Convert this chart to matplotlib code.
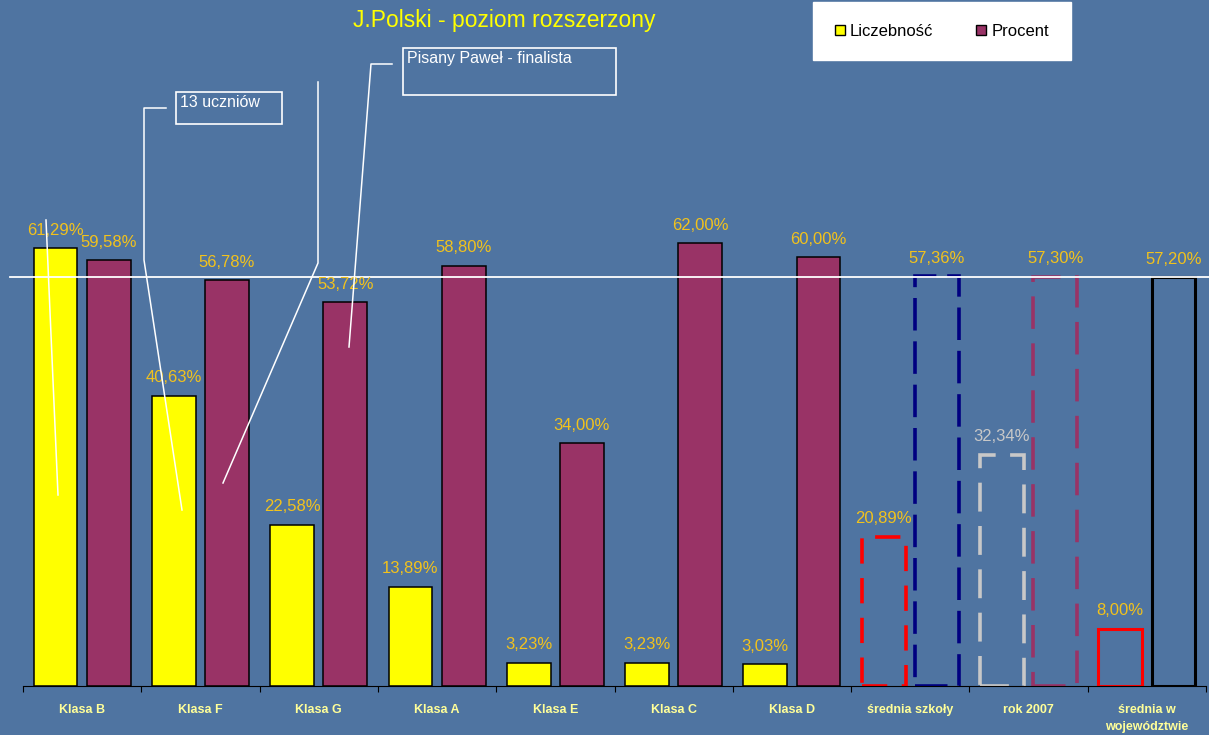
import numpy as np
import matplotlib.pyplot as plt
from matplotlib.patches import Patch, Rectangle
from matplotlib.lines import Line2D

plt.rcParams['font.family'] = ['Liberation Sans', 'DejaVu Sans']

# dane
kategorie = ['Klasa B', 'Klasa F', 'Klasa G', 'Klasa A', 'Klasa E', 'Klasa C',
             'Klasa D', 'średnia szkoły', 'rok 2007', 'średnia w\nwojewództwie']
liczebnosc = [61.29, 40.63, 22.58, 13.89, 3.23, 3.23, 3.03, 20.89, 32.34, 8.00]
procent = [59.58, 56.78, 53.72, 58.80, 34.00, 62.00, 60.00, 57.36, 57.30, 57.20]
srednia_woj = 57.20

tlo = '#4F74A1'
zolty = '#FFFF00'
fiolet = '#993366'
zloty = '#F2C21C'

W, H = 1209, 735
fig = plt.figure(figsize=(W / 100, H / 100), dpi=100, facecolor=tlo)

def fx(x):  # piksele -> wspolrzedne figury
    return x / W

def fy(y):
    return 1 - y / H

ax = fig.add_axes([fx(23), fy(686), fx(1206) - fx(23), fy(186) - fy(686)])
ax.set_facecolor(tlo)
ax.set_xlim(0, len(kategorie))
ax.set_ylim(0, 70)

x = np.arange(len(kategorie)) + 0.5
szer = 0.37
dx = 0.225

# styl slupkow: zwykle dla klas, obrysy dla srednich
styl_l = [dict(fc=zolty, ec='black', lw=1.1, ls='-')] * 7 + [
    dict(fc='none', ec='red', lw=2.6, ls=(0, (7, 4))),
    dict(fc='none', ec='#C8C8C8', lw=2.6, ls=(0, (8, 4))),
    dict(fc='none', ec='red', lw=2.2, ls='-')]
styl_p = [dict(fc=fiolet, ec='black', lw=1.1, ls='-')] * 7 + [
    dict(fc='none', ec='#000080', lw=2.6, ls=(0, (9, 3))),
    dict(fc='none', ec=fiolet, lw=2.6, ls=(0, (9, 4))),
    dict(fc='none', ec='black', lw=2.2, ls='-')]
kolor_etykiet_l = [zloty] * 8 + ['#C8C8C8', zloty]

def fmt(v):
    return f'{v:.2f}'.replace('.', ',') + '%'

for i in range(len(kategorie)):
    s = styl_l[i]
    ax.bar(x[i] - dx, liczebnosc[i], szer, facecolor=s['fc'], edgecolor=s['ec'],
           linewidth=s['lw'], linestyle=s['ls'], zorder=3)
    s = styl_p[i]
    ax.bar(x[i] + dx, procent[i], szer, facecolor=s['fc'], edgecolor=s['ec'],
           linewidth=s['lw'], linestyle=s['ls'], zorder=3)
    ax.annotate(fmt(liczebnosc[i]), (x[i] - dx, liczebnosc[i]), xytext=(0, 13),
                textcoords='offset points', ha='center', va='center',
                color=kolor_etykiet_l[i], fontsize=12, zorder=5)
    ax.annotate(fmt(procent[i]), (x[i] + dx, procent[i]), xytext=(0, 13),
                textcoords='offset points', ha='center', va='center',
                color=zloty, fontsize=12, zorder=5)

# linia sredniej wojewodzkiej
ax.plot([-0.11, 10.03], [srednia_woj, srednia_woj], color='white', lw=1.3,
        clip_on=False, zorder=4)

# osie
for sp in ['top', 'right', 'left']:
    ax.spines[sp].set_visible(False)
ax.spines['bottom'].set_color('black')
ax.spines['bottom'].set_zorder(6)
ax.set_yticks([])
ax.set_xticks(np.arange(len(kategorie) + 1))
ax.set_xticklabels([])
ax.tick_params(axis='x', which='major', direction='out', length=4, color='black')
ax.set_xticks(x, minor=True)
ax.set_xticklabels(kategorie, minor=True, fontsize=9, fontweight='bold',
                   color='#FFFF99', linespacing=1.5)
ax.tick_params(axis='x', which='minor', length=0, pad=13)

# tytul
fig.text(fx(504), fy(21), 'J.Polski - poziom rozszerzony', ha='center', va='center',
         color='#FFFF00', fontsize=16.5)

# legenda
uchwyty = [Patch(facecolor=zolty, edgecolor='black'), Patch(facecolor=fiolet, edgecolor='black')]
leg = fig.legend(uchwyty, ['Liczebność', 'Procent'], loc='upper left',
                 bbox_to_anchor=(fx(813), fy(2)), ncol=2, fontsize=12,
                 frameon=True, fancybox=False, facecolor='white', edgecolor='white',
                 framealpha=1, handlelength=0.6, handleheight=0.6, handletextpad=0.3,
                 columnspacing=2.6, borderpad=1.3, borderaxespad=0)

# objasnienia
def linia(xs, ys):
    fig.add_artist(Line2D([fx(v) for v in xs], [fy(v) for v in ys], color='white',
                          lw=1.1, transform=fig.transFigure, zorder=7))

def ramka(x0, y0, x1, y1, tekst):
    fig.add_artist(Rectangle((fx(x0), fy(y1)), fx(x1) - fx(x0), fy(y0) - fy(y1),
                             fill=False, ec='white', lw=1.2,
                             transform=fig.transFigure, zorder=7))
    fig.text(fx(x0 + 4), fy(y0 + 3), tekst, ha='left', va='top', color='white',
             fontsize=11.5, zorder=8)

ramka(176, 92, 282, 124, '13 uczniów')
linia([166, 144, 144, 182], [108, 108, 260, 510])
linia([46, 58], [220, 495])
linia([318, 318, 223], [82, 263, 483])
ramka(403, 48, 616, 95, 'Pisany Paweł - finalista')
linia([392, 371, 349], [64, 64, 347])

fig.savefig('out.png', dpi=100, facecolor=tlo)
